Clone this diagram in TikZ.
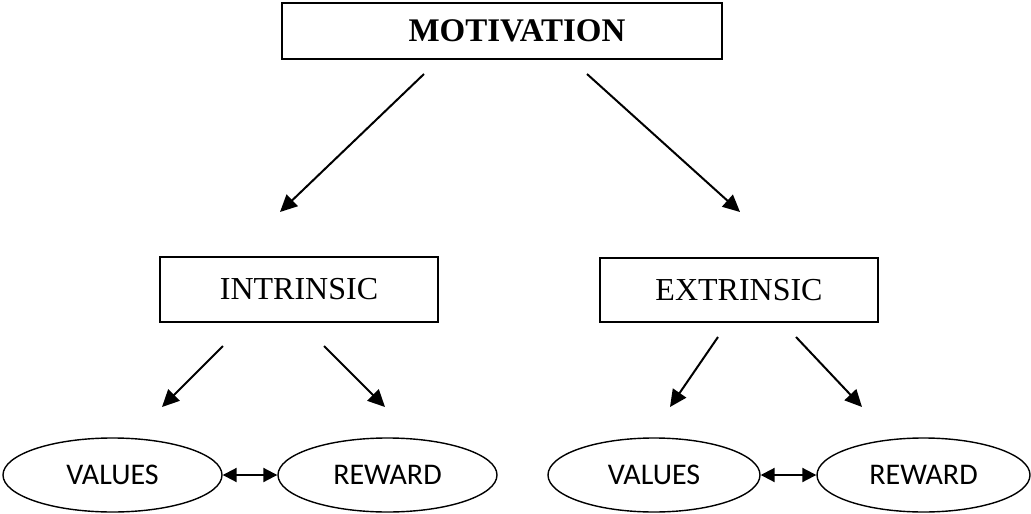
\documentclass[tikz,border=0pt]{standalone}
\usepackage{fontspec}
\setmainfont{Liberation Serif}
\newfontfamily\calibri{Carlito}
\usetikzlibrary{arrows.meta,shapes.geometric}
\begin{document}
\begin{tikzpicture}[x=1pt,y=-1pt,
 boxnode/.style={draw,line width=1.5pt,rectangle,inner sep=0pt,font=\fontsize{32}{36}\selectfont},
 ellnode/.style={draw,line width=1.4pt,ellipse,inner sep=0pt,minimum height=74pt,font=\calibri\fontsize{30}{34}\selectfont},
 arr/.style={line width=2pt,-{Triangle[length=17pt,width=16pt]}},
 darr/.style={line width=2pt,{Triangle[length=14pt,width=14pt]}-{Triangle[length=14pt,width=14pt]}}]
\useasboundingbox (0,0) rectangle (1031,514);
\node[boxnode,minimum width=440pt,minimum height=56pt] (mot) at (502,31) {};
\node[inner sep=0pt,font=\bfseries\fontsize{33}{36}\selectfont] (motlbl) at (517,31) {MOTIVATION};
\node[boxnode,minimum width=278pt,minimum height=65pt] (intr) at (299,289.5) {INTRINSIC};
\node[boxnode,minimum width=278pt,minimum height=64pt] (extr) at (739,290) {EXTRINSIC};
\node[ellnode,minimum width=219pt] (v1) at (112.5,475) {VALUES};
\node[ellnode,minimum width=219pt] (r1) at (387.5,475) {REWARD};
\node[ellnode,minimum width=212pt] (v2) at (654,475) {VALUES};
\node[ellnode,minimum width=213pt] (r2) at (923.5,475) {REWARD};
\coordinate (a1s) at (424,74);
\coordinate (a1e) at (280,212);
\coordinate (a2s) at (587,74);
\coordinate (a2e) at (740,212);
\coordinate (b1s) at (223,346);
\coordinate (b1e) at (162,407);
\coordinate (b2s) at (324,346);
\coordinate (b2e) at (385,407);
\coordinate (c1s) at (718,337);
\coordinate (c1e) at (670,407);
\coordinate (c2s) at (796,337);
\coordinate (c2e) at (862,407);
\draw[arr] (a1s) -- (a1e);
\draw[arr] (a2s) -- (a2e);
\draw[arr] (b1s) -- (b1e);
\draw[arr] (b2s) -- (b2e);
\draw[arr] (c1s) -- (c1e);
\draw[arr] (c2s) -- (c2e);
\draw[darr] (v1.east) -- (r1.west);
\draw[darr] (v2.east) -- (r2.west);
\end{tikzpicture}
\end{document}
